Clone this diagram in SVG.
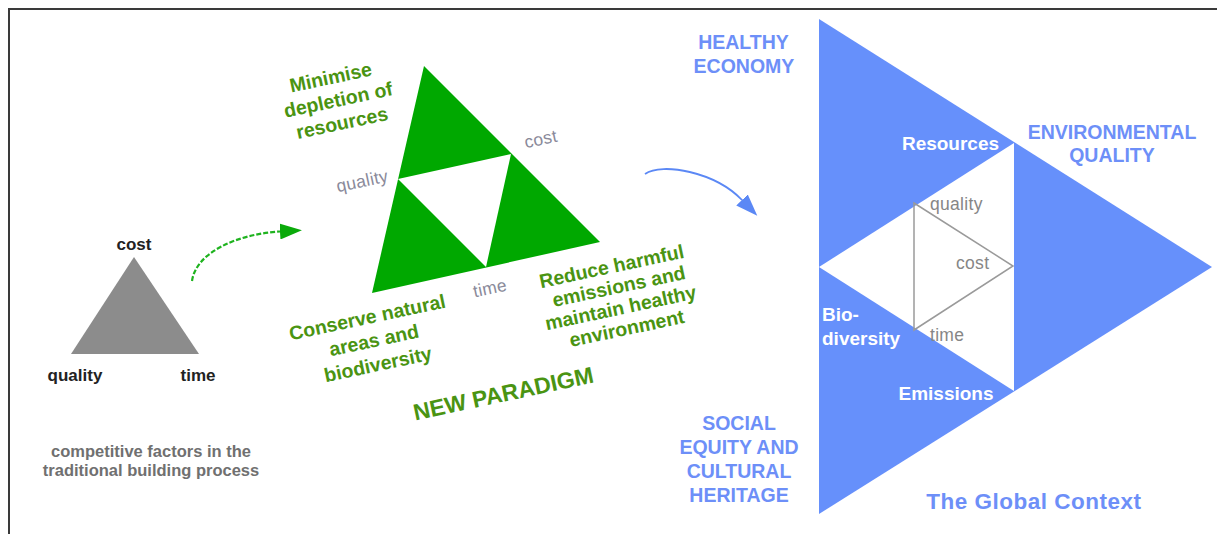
<svg xmlns="http://www.w3.org/2000/svg" width="1217" height="534" viewBox="0 0 1217 534">
<style>
text{font-family:"Liberation Sans",Arial,sans-serif}
.frame{fill:none;stroke:#3a3a3a;stroke-width:2}
.dark{font-size:17px;font-weight:bold;fill:#222;text-anchor:middle}
.cap{font-size:16.5px;font-weight:bold;fill:#707070;text-anchor:middle}
.gl{font-size:19.5px;font-weight:bold;fill:#4a9412;text-anchor:middle}
.np{font-size:23px;font-weight:bold;fill:#4a9412;text-anchor:middle}
.gy{font-size:17.5px;fill:#8a8a9a;text-anchor:middle;letter-spacing:0.3px}
.gy2{font-size:17.5px;fill:#868686;text-anchor:start;letter-spacing:0.3px}
.bl{font-size:19.5px;font-weight:bold;fill:#6d8ff8;text-anchor:middle}
.wh{font-size:19px;font-weight:bold;fill:#fff}
.ctx{font-size:22.5px;font-weight:bold;fill:#6d8ff8;text-anchor:middle;letter-spacing:0.5px}
.garrow{fill:none;stroke:#1fb31f;stroke-width:2.2;stroke-dasharray:5 2}
.barrow{fill:none;stroke:#5b88f5;stroke-width:1.8}
</style>
<defs>
<marker id="ahG" viewBox="0 0 22 16" refX="0" refY="8" markerWidth="22" markerHeight="16" markerUnits="userSpaceOnUse" orient="auto">
<path d="M0,0 L22,8 L0,16 z" fill="#0aaa0a"/>
</marker>
<marker id="ahB" viewBox="0 0 22 16" refX="0" refY="8" markerWidth="22" markerHeight="16" markerUnits="userSpaceOnUse" orient="auto">
<path d="M0,0 L22,8 L0,16 z" fill="#5b88f5"/>
</marker>
</defs>
<rect width="1217" height="534" fill="#fff"/>
<path class="frame" d="M9,534 V9 H1217"/>

<g id="traditional">
<polygon points="134,257 199,354 71,354" fill="#8c8c8c"/>
<text class="dark" x="134" y="250">cost</text>
<text class="dark" x="75" y="381">quality</text>
<text class="dark" x="198" y="381">time</text>
<text class="cap" x="151" y="457">competitive factors in the</text>
<text class="cap" x="151" y="476">traditional building process</text>
</g>

<g id="new-paradigm">
<polygon points="424,66 600,242 372,293" fill="#00a800"/>
<polygon points="398,179 511,154 486,267" fill="#fff"/>
<text class="gl" x="330.7" y="84" transform="rotate(-12 330.7 77.3)">Minimise</text>
<text class="gl" x="338.3" y="106.5" transform="rotate(-12 338.3 100)">depletion of</text>
<text class="gl" x="342.3" y="129.5" transform="rotate(-12 342.3 124)">resources</text>
<text class="gy" x="362.3" y="187" transform="rotate(-12 362.3 181.7)">quality</text>
<text class="gy" x="540.7" y="145" transform="rotate(-12 540.7 139)">cost</text>
<text class="gy" x="490" y="294" transform="rotate(-12 490 288.3)">time</text>
<text class="gl" x="367.3" y="324" transform="rotate(-12 367.3 317.3)">Conserve natural</text>
<text class="gl" x="374" y="347" transform="rotate(-12 374 340.7)">areas and</text>
<text class="gl" x="378.3" y="371" transform="rotate(-12 378.3 366)">biodiversity</text>
<text class="gl" x="611.7" y="273" transform="rotate(-12 611.7 266.7)">Reduce harmful</text>
<text class="gl" x="619" y="293" transform="rotate(-12 619 287)">emissions and</text>
<text class="gl" x="620.7" y="314.5" transform="rotate(-12 620.7 308)">maintain healthy</text>
<text class="gl" x="627" y="335" transform="rotate(-12 627 329)">environment</text>
<text class="np" x="503.3" y="401.5" transform="rotate(-12 503.3 393.3)">NEW PARADIGM</text>
</g>

<g id="global-context">
<polygon points="819,19 1212,267 819,514" fill="#6690fb"/>
<polygon points="1014,143 1014,391 819,267" fill="#fff"/>
<polygon points="914,203 1013,266 914,330" fill="none" stroke="#9a9a9a" stroke-width="1.5"/>
<text class="gy2" x="930" y="210">quality</text>
<text class="gy2" x="956" y="269">cost</text>
<text class="gy2" x="930" y="341">time</text>
<text class="wh" x="950.5" y="150" text-anchor="middle">Resources</text>
<text class="wh" x="822" y="321">Bio-</text>
<text class="wh" x="822" y="345">diversity</text>
<text class="wh" x="946" y="400" text-anchor="middle">Emissions</text>
<text class="bl" x="743.5" y="49">HEALTHY</text>
<text class="bl" x="744" y="73">ECONOMY</text>
<text class="bl" x="1112" y="139">ENVIRONMENTAL</text>
<text class="bl" x="1112" y="162">QUALITY</text>
<text class="bl" x="739" y="430">SOCIAL</text>
<text class="bl" x="739" y="454">EQUITY AND</text>
<text class="bl" x="739" y="478">CULTURAL</text>
<text class="bl" x="739" y="502">HERITAGE</text>
<text class="ctx" x="1034" y="509">The Global Context</text>
</g>

<g id="connectors">
<path class="garrow" d="M192,281 C196,252 238,234 280,231.5" marker-end="url(#ahG)"/>
<path class="barrow" d="M645,174 C662,162 715,172 742,200" marker-end="url(#ahB)"/>
</g>
</svg>
